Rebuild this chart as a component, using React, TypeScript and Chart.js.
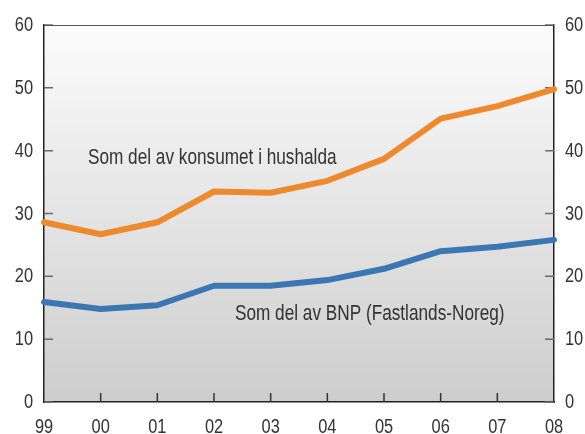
import { useEffect, useRef } from "react";
import { Chart, registerables } from "chart.js";
Chart.register(...registerables);

const years = ["99", "00", "01", "02", "03", "04", "05", "06", "07", "08"];
const householdShare = [28.6, 26.7, 28.6, 33.5, 33.3, 35.2, 38.7, 45.1, 47.1, 49.8];
const gdpShare = [15.9, 14.8, 15.4, 18.5, 18.5, 19.4, 21.2, 24.0, 24.7, 25.8];
const yMin = 0;
const yMax = 60;
const yStep = 10;
const householdLabel = "Som del av konsumet i hushalda";
const gdpLabel = "Som del av BNP (Fastlands-Noreg)";
// label anchors in data units (category index, value at text baseline)
const householdLabelAt = [0.776, 37.9];
const gdpLabelAt = [3.37, 13.05];

const FONT = '"Liberation Sans", Arial, sans-serif';
const TEXT = "#333333";
const ORANGE = "#EE8A2E";
const BLUE = "#3B77B3";

function condensedText(ctx: any, text: string, x: number, y: number, align: "left" | "right" | "center", sx: number) {
  ctx.save();
  ctx.translate(x, y);
  ctx.scale(sx, 1);
  ctx.textAlign = align;
  ctx.textBaseline = "alphabetic";
  ctx.fillText(text, 0, 0);
  ctx.restore();
}

export default function App() {
  const ref = useRef<HTMLCanvasElement | null>(null);

  useEffect(() => {
    document.body.style.margin = "0";
    const canvas = ref.current;
    if (!canvas) return;

    const plugin = {
      id: "decor",
      beforeDraw(chart: any) {
        const { ctx, chartArea: a } = chart;
        const g = ctx.createLinearGradient(0, a.top, 0, a.bottom);
        g.addColorStop(0, "#FCFCFC");
        g.addColorStop(1, "#CDCDCD");
        ctx.save();
        ctx.fillStyle = g;
        ctx.fillRect(a.left, a.top, a.right - a.left, a.bottom - a.top);
        ctx.restore();
      },
      beforeDatasetsDraw(chart: any) {
        const { ctx, chartArea: a } = chart;
        const y = chart.scales.y;
        const x = chart.scales.x;
        ctx.save();
        ctx.strokeStyle = "#6a6a6a";
        ctx.lineWidth = 1.5;
        ctx.beginPath();
        y.ticks.forEach((t: any) => {
          const py = y.getPixelForValue(t.value);
          ctx.moveTo(a.left, py);
          ctx.lineTo(a.left + 9, py);
          ctx.moveTo(a.right - 9, py);
          ctx.lineTo(a.right, py);
        });
        ctx.stroke();
        ctx.strokeStyle = "#333333";
        ctx.beginPath();
        for (let i = 1; i < years.length - 1; i++) {
          const px = x.getPixelForValue(i);
          ctx.moveTo(px, a.bottom);
          ctx.lineTo(px, a.bottom - 9);
        }
        ctx.stroke();
        ctx.strokeStyle = "#555555";
        ctx.lineWidth = 1;
        ctx.beginPath();
        ctx.moveTo(a.left, a.top + 0.5);
        ctx.lineTo(a.right, a.top + 0.5);
        ctx.stroke();
        ctx.restore();
      },
      afterDatasetsDraw(chart: any) {
        const { ctx, chartArea: a } = chart;
        const x = chart.scales.x;
        const y = chart.scales.y;
        ctx.save();
        ctx.fillStyle = TEXT;
        // tick labels
        ctx.font = `20px ${FONT}`;
        y.ticks.forEach((t: any) => {
          const py = y.getPixelForValue(t.value) + 6;
          condensedText(ctx, String(t.value), a.left - 11, py, "right", 0.82);
          condensedText(ctx, String(t.value), a.right + 11, py, "left", 0.82);
        });
        years.forEach((lab, i) => {
          condensedText(ctx, lab, x.getPixelForValue(i), a.bottom + 31, "center", 0.82);
        });
        // series labels
        ctx.font = `21.5px ${FONT}`;
        condensedText(ctx, householdLabel, x.getPixelForValue(householdLabelAt[0]), y.getPixelForValue(householdLabelAt[1]), "left", 0.8);
        condensedText(ctx, gdpLabel, x.getPixelForValue(gdpLabelAt[0]), y.getPixelForValue(gdpLabelAt[1]), "left", 0.8);
        ctx.restore();
      },
    };

    const border = { display: true, color: "#222222", width: 1.5 };

    const chart = new Chart(canvas, {
      type: "line",
      data: {
        labels: years,
        datasets: [
          {
            data: householdShare,
            borderColor: ORANGE,
            borderWidth: 6,
            pointRadius: 0,
            tension: 0,
            borderCapStyle: "round",
            borderJoinStyle: "round",
            yAxisID: "y",
          },
          {
            data: gdpShare,
            borderColor: BLUE,
            borderWidth: 6,
            pointRadius: 0,
            tension: 0,
            borderCapStyle: "round",
            borderJoinStyle: "round",
            yAxisID: "y",
          },
        ],
      },
      options: {
        animation: false,
        responsive: false,
        maintainAspectRatio: false,
        layout: { padding: { top: 25, left: 0, right: 0, bottom: 0 } },
        plugins: { legend: { display: false }, tooltip: { enabled: false } },
        scales: {
          x: {
            type: "category",
            offset: false,
            grid: { display: false, drawTicks: false },
            border,
            ticks: { display: false, autoSkip: false },
            afterFit: (s: any) => { s.height = 32; },
          },
          y: {
            position: "left",
            min: yMin,
            max: yMax,
            grid: { display: false, drawTicks: false },
            border,
            ticks: { stepSize: yStep, display: false },
            afterFit: (s: any) => { s.width = 44; },
          },
          y2: {
            position: "right",
            min: yMin,
            max: yMax,
            grid: { display: false, drawTicks: false },
            border,
            ticks: { stepSize: yStep, display: false },
            afterFit: (s: any) => { s.width = 31; },
          },
        },
      },
      plugins: [plugin],
    } as any);

    return () => chart.destroy();
  }, []);

  return (
    <div style={{ position: "relative", width: 585, height: 434 }}>
      <canvas ref={ref} width={585} height={434} style={{ display: "block", width: 585, height: 434 }} />
    </div>
  );
}
